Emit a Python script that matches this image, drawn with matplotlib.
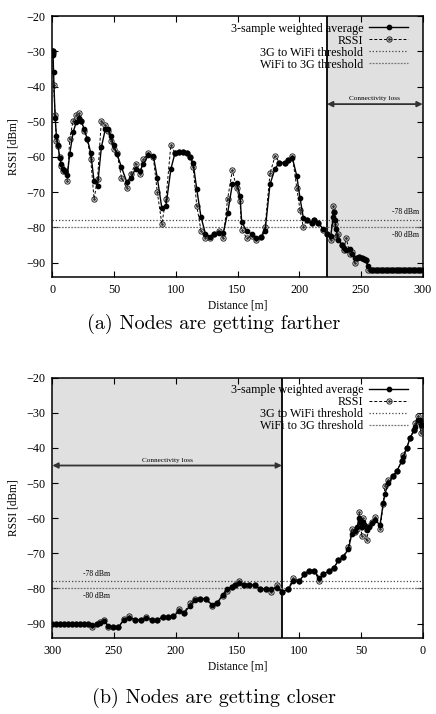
#!/usr/bin/env python3
"""RSSI vs distance: nodes moving apart (a) and moving closer (b)."""
import matplotlib
matplotlib.use("Agg")
import matplotlib.pyplot as plt
from matplotlib.lines import Line2D
from matplotlib.legend_handler import HandlerTuple

plt.rcParams["font.family"] = ["Liberation Serif", "DejaVu Serif"]

# (a) nodes are getting farther
DIST_A = [0, 0.3, 0.6, 1.0, 2.3, 3.3, 4.5, 6.0, 7.3, 8.7, 10.5, 12.2, 14.1, 16.8, 19.5,
          21.4, 23.5, 25.7, 28.4, 31.1, 33.8, 36.6, 39.7, 43.0, 45.1, 47.3, 49.7, 52.5,
          56.0, 60.2, 63.5, 67.5, 71.0, 73.7, 77.8, 81.8, 85.0, 88.7, 92.0, 96.0, 99.4,
          103.0, 106.0, 109.0, 111.5, 114.0, 117.0, 120.4, 124.0, 127.7, 131.0, 135.0,
          138.5, 142.0, 145.8, 149.3, 152.0, 153.4, 157.4, 161.5, 165.0, 168.8, 172.3,
          176.3, 180.4, 184.0, 188.5, 191.0, 194.4, 198.0, 200.6, 203.3, 206.0, 210.0,
          212.0, 215.5, 219.5, 222.8, 225.5, 227.6, 228.3, 229.0, 229.8, 231.7, 234.4,
          236.0, 238.0, 241.0, 243.0, 245.0, 246.5, 248.5, 250.6, 252.5, 254.0, 256.0,
          258, 260, 262, 264, 266, 268, 270, 272, 274, 276, 278, 280, 282, 284, 286,
          288, 290, 292, 294, 296, 298, 300]
RSSI_A = [-30, -30, -30.5, -39.5, -48, -55.6, -57, -60, -62.6, -64, -64, -66.9, -54.8,
          -49.8, -48.2, -47.6, -49.8, -52.6, -55, -60.7, -71.9, -66.4, -49.8, -51, -52.5,
          -55.4, -57.8, -59, -65.9, -68.8, -64.8, -61.9, -64.8, -60.7, -58.8, -60, -69.9,
          -79, -72, -56.7, -58.8, -58.6, -58.6, -59, -60, -62.8, -73.8, -80.9, -83, -83,
          -82, -80.9, -83, -71.9, -63.8, -68.8, -72.5, -80.7, -83, -82.5, -83.7, -82.8,
          -80, -64.7, -59.7, -61.6, -61.6, -61, -59.7, -68.8, -75, -80, -77.8, -78.8,
          -77.8, -78.8, -80.7, -82, -83.5, -74, -75.5, -79, -82.6, -82, -85, -86.5, -83,
          -87.5, -87, -90, -88.8, -88.5, -88.8, -89, -89.4, -92,
          -92, -92, -92, -92, -92, -92, -92, -92, -92, -92, -92, -92, -92, -92, -92,
          -92, -92, -92, -92, -92, -92, -92]
AVG_A = [-30, -30, -31, -36, -49, -54, -56.5, -60.3, -62, -63.5, -64, -65, -59.2, -53,
         -50, -49, -49.8, -52, -55, -58.8, -66.9, -68.3, -57.3, -52, -52.1, -54, -56.7,
         -59.3, -62.9, -67, -66, -63.3, -64, -62, -59.5, -59.7, -65.9, -74.5, -74, -63.5,
         -58.8, -58.6, -58.6, -59, -60, -61.6, -69.2, -77, -81.8, -82.6, -82, -81.5,
         -81.5, -75.9, -67.8, -67.3, -71, -78.6, -80.9, -82, -83, -82.8, -81.1, -67.8,
         -63.3, -61.6, -61.6, -61, -60.2, -65.4, -71.6, -77.3, -77.8, -78.8, -77.8,
         -78.8, -80.5, -82, -82.5, -77, -75.5, -78, -80.5, -83.5, -85, -85.8, -86.4, -86,
         -87.5, -88.8, -88.8, -88.5, -88.8, -89, -89.4, -91,
         -92, -92, -92, -92, -92, -92, -92, -92, -92, -92, -92, -92, -92, -92, -92,
         -92, -92, -92, -92, -92, -92, -92]
LOSS_A = (222.5, 300)

# (b) nodes are getting closer
DIST_B = [300, 296.8, 293.6, 290.4, 287.2, 284, 280.8, 277.6, 274.4, 271, 267.6, 264,
          261.4, 258.2, 254.6, 250.6, 246.5, 242, 237.6, 233, 228.5, 224.1, 219.5, 215,
          210.6, 206, 202, 197.1, 193.4, 188.5, 184.4, 180.4, 175.5, 171, 166.4, 162,
          158.8, 154.7, 152, 148.8, 144.8, 140.4, 135.8, 131.8, 127, 123.2, 118.3, 113.7,
          108.8, 104.8, 100, 95.9, 91.8, 88, 83.7, 80.5, 75.6, 71.8, 68.3, 64.3, 60.2,
          57.5, 55, 53, 51.3, 50.5, 50, 49.5, 48.5, 47.5, 45.3, 43.5, 41.3, 38.3, 34.6,
          31.9, 30.6, 27.8, 23.8, 21, 17, 15.6, 12.9, 10.3, 6.8, 6.2, 3.5, 2.2, 1.6, 0.8, 0]
RSSI_B = [-90, -90, -90, -90, -90, -90, -90, -90, -90, -90, -91, -90, -89.6, -88.9, -91,
          -91, -91, -88.7, -87.9, -88.9, -89, -88.1, -88.9, -89, -88.1, -88.1, -87.9,
          -85.8, -87, -84.1, -83, -82.9, -82.9, -85, -84.1, -82.2, -80.8, -79.6, -78.9,
          -77.9, -78.9, -78.9, -79.1, -80.1, -80.1, -81, -79.1, -81, -80.1, -77, -77.9,
          -76, -74.9, -74.9, -77.9, -76, -74.9, -74.1, -72, -71, -68.2, -63.2, -64, -63,
          -58.2, -61, -62, -65.1, -60, -62, -66.3, -62.2, -61, -59.8, -63.2, -56, -50.8,
          -49, -48, -46.6, -43.8, -41.9, -40, -37.2, -34.8, -32.9, -30.8, -32.5, -35.8,
          -34, -33]
AVG_B = [-90, -90, -90, -90, -90, -90, -90, -90, -90, -90, -90.5, -90.2, -89.8, -89.3,
         -90.6, -91, -91, -89, -88.3, -88.9, -89, -88.4, -88.9, -89, -88.1, -88.1, -87.9,
         -86.5, -87, -85, -83.3, -82.9, -82.9, -84.6, -84.1, -81.8, -80.3, -79.6, -78.9,
         -78.4, -78.9, -78.9, -79.1, -80.1, -80.1, -80.3, -79.8, -81, -80.1, -77.9, -77.9,
         -76, -74.9, -74.9, -77, -76, -74.9, -74.1, -72, -71, -68.8, -64.6, -63.6, -62.5,
         -60, -60.5, -61.5, -62.5, -61, -62, -63.5, -62.5, -61.5, -60.5, -62, -55.6, -53,
         -50.1, -48, -46.6, -43.8, -42.5, -40, -37.2, -34.8, -34, -32, -32, -33.5, -33.5,
         -33.5]
LOSS_B = (300, 114)

THRESH_UP = -78    # 3G to WiFi
THRESH_DOWN = -80  # WiFi to 3G


def draw_panel(ax, dist, rssi, avg, loss, invert, edge, note_x, note_ha):
    ax.axvspan(min(loss), max(loss), color="#e0e0e0", zorder=0, lw=0)
    ax.axvline(edge, color="black", lw=1.3, zorder=1)

    ax.axhline(THRESH_UP, color="#444444", lw=0.9, ls=(0, (1, 1.6)), zorder=2)
    ax.axhline(THRESH_DOWN, color="#777777", lw=0.9, ls=(0, (1.5, 1)), zorder=2)

    ax.plot(dist, rssi, color="black", lw=0.7, ls=(0, (3, 2)), zorder=3)
    ax.plot(dist, rssi, ls="none", marker="o", ms=3.8, mfc="none", mec="#222222",
            mew=0.7, zorder=3)
    ax.plot(dist, rssi, ls="none", marker="o", ms=1.0, color="#333333", zorder=3)
    ax.plot(dist, avg, color="black", lw=1.0, marker="o", ms=3.1, zorder=4)

    ax.text(note_x, THRESH_UP + 1.1, "-78 dBm", ha=note_ha, va="bottom", fontsize=5.5)
    ax.text(note_x, THRESH_DOWN - 0.9, "-80 dBm", ha=note_ha, va="top", fontsize=5.5)

    ax.annotate("", xy=(loss[0], -45), xytext=(loss[1], -45),
                arrowprops=dict(arrowstyle="<|-|>", color="#333333", lw=1.3,
                                shrinkA=0, shrinkB=0, mutation_scale=8))
    ax.text((loss[0] + loss[1]) / 2, -44.2, "Connectivity loss", ha="center",
            va="bottom", fontsize=5.2)

    if invert:
        ax.set_xlim(300, 0)
    else:
        ax.set_xlim(0, 300)
    ax.set_ylim(-94, -20)
    ax.set_xticks([0, 50, 100, 150, 200, 250, 300])
    ax.set_yticks([-90, -80, -70, -60, -50, -40, -30, -20])
    ax.tick_params(direction="in", top=True, right=True, labelsize=8.7, length=4,
                   width=0.8, pad=5)
    for s in ax.spines.values():
        s.set_linewidth(1.1)
    ax.set_xlabel("Distance [m]", fontsize=8.3, labelpad=3)
    ax.set_ylabel("RSSI [dBm]", fontsize=8.3, labelpad=5)

    h_avg = Line2D([0], [0], color="black", lw=1.0, marker="o", ms=3.1)
    h_rssi_l = Line2D([0], [0], color="black", lw=0.7, ls=(0, (3, 2)), marker="o",
                      ms=3.8, mfc="none", mec="#222222", mew=0.7)
    h_rssi_d = Line2D([0], [0], ls="none", marker="o", ms=1.0, color="#333333")
    h_up = Line2D([0], [0], color="#444444", lw=0.9, ls=(0, (1, 1.6)))
    h_down = Line2D([0], [0], color="#777777", lw=0.9, ls=(0, (1.5, 1)))
    ax.legend([h_avg, (h_rssi_l, h_rssi_d), h_up, h_down],
              ["3-sample weighted average", "RSSI", "3G to WiFi threshold",
               "WiFi to 3G threshold"],
              handler_map={tuple: HandlerTuple(ndivide=1)},
              loc="upper right", bbox_to_anchor=(0.96, 0.975), frameon=False,
              markerfirst=False, fontsize=8.7, labelspacing=0.0, handlelength=3.2,
              handletextpad=0.5, borderpad=0, borderaxespad=0)


fig = plt.figure(figsize=(4.36, 7.14), dpi=100)
ax_a = fig.add_axes([0.12, 0.6125, 0.8495, 0.365])
ax_b = fig.add_axes([0.12, 0.107, 0.8495, 0.364])

draw_panel(ax_a, DIST_A, RSSI_A, AVG_A, LOSS_A, False, LOSS_A[0], 297, "right")
draw_panel(ax_b, DIST_B, RSSI_B, AVG_B, LOSS_B, True, LOSS_B[1], 275, "left")

fig.text(0.49, 0.547, "(a) Nodes are getting farther", ha="center", va="center",
         family="cmr10", fontsize=14.5)
fig.text(0.49, 0.023, "(b) Nodes are getting closer", ha="center", va="center",
         family="cmr10", fontsize=14.5)

fig.savefig("out.png", dpi=100)
plt.close(fig)
